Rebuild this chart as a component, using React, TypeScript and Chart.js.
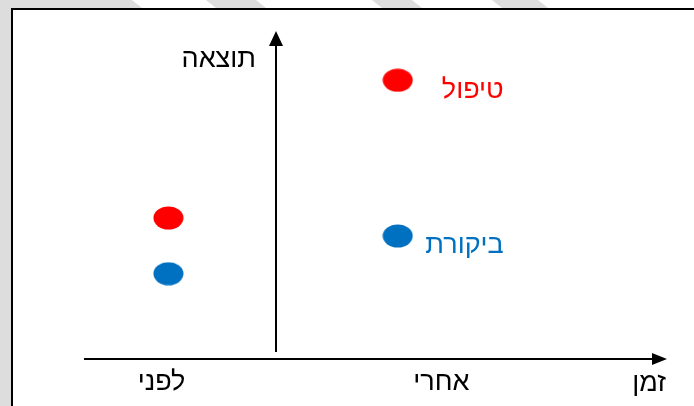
import React, { useEffect, useRef } from "react";
import { Chart, registerables } from "chart.js";

Chart.register(...registerables);

// ---- data ----
const periods = ["לפני", "אחרי"];
const periodX = [0, 1];
const tickAt = [-0.03, 1.19];
const treatment = [4.3, 8.5];
const control = [2.6, 3.75];
const seriesNames = ["טיפול", "ביקורת"];
const xTitle = "זמן";
const yTitle = "תוצאה";

const FONT = '"Liberation Sans", Arial, "DejaVu Sans", sans-serif';
const FONT_SIZE = 27;
const RED = "#ff0000";
const BLUE = "#0070c0";

function ellipse(color: string, w: number, h: number) {
  const c = document.createElement("canvas");
  c.width = w;
  c.height = h;
  const ctx = c.getContext("2d")!;
  ctx.fillStyle = color;
  ctx.beginPath();
  ctx.ellipse(w / 2, h / 2, w / 2 - 0.5, h / 2 - 0.5, 0, 0, Math.PI * 2);
  ctx.fill();
  return c;
}

const slidePlugin = {
  id: "slide",
  beforeDraw(chart: any) {
    const ctx = chart.ctx;
    const W = chart.width;
    const H = chart.height;
    ctx.save();
    ctx.fillStyle = "#ffffff";
    ctx.fillRect(0, 0, W, H);
    ctx.fillStyle = "#dddddd";
    ctx.fillRect(0, 0, 11, H);
    const bands = [
      [-20, 132],
      [206, 256],
      [372, 412],
      [492, 538],
    ];
    for (const [a, b] of bands) {
      ctx.beginPath();
      ctx.moveTo(a, 0);
      ctx.lineTo(b, 0);
      ctx.lineTo(b + 10, 8);
      ctx.lineTo(a + 10, 8);
      ctx.closePath();
      ctx.fill();
    }
    ctx.fillStyle = "#000000";
    ctx.fillRect(11, 8, W - 11, 2);
    ctx.fillRect(11, 8, 2, H - 8);
    ctx.restore();
  },
};

const axesPlugin = {
  id: "axes",
  beforeDatasetsDraw(chart: any, _args: any, opts: any) {
    const ctx = chart.ctx;
    const a = chart.chartArea;
    const x = chart.scales.x;
    const yx = Math.round(x.getPixelForValue(opts.yAxisAt));
    ctx.save();
    ctx.strokeStyle = "#000";
    ctx.fillStyle = "#000";
    ctx.lineWidth = 2;
    // x axis
    ctx.beginPath();
    ctx.moveTo(a.left, a.bottom);
    ctx.lineTo(a.right - 10, a.bottom);
    ctx.stroke();
    ctx.beginPath();
    ctx.moveTo(a.right, a.bottom);
    ctx.lineTo(a.right - 15, a.bottom - 6);
    ctx.lineTo(a.right - 15, a.bottom + 6);
    ctx.closePath();
    ctx.fill();
    // y axis
    ctx.beginPath();
    ctx.moveTo(yx, a.bottom - 7);
    ctx.lineTo(yx, a.top + 10);
    ctx.stroke();
    ctx.beginPath();
    ctx.moveTo(yx, a.top);
    ctx.lineTo(yx - 7, a.top + 15);
    ctx.lineTo(yx + 7, a.top + 15);
    ctx.closePath();
    ctx.fill();
    // titles
    ctx.font = `${FONT_SIZE}px ${FONT}`;
    ctx.textBaseline = "middle";
    ctx.textAlign = "right";
    ctx.fillText(opts.yTitle, yx - 20, a.top + 29);
    ctx.fillText(opts.xTitle, a.right - 1, a.bottom + 25);
    ctx.restore();
  },
};

const labelsPlugin = {
  id: "seriesLabels",
  afterDatasetsDraw(chart: any, _args: any, opts: any) {
    const ctx = chart.ctx;
    ctx.save();
    ctx.font = `${FONT_SIZE}px ${FONT}`;
    ctx.textBaseline = "middle";
    ctx.textAlign = "right";
    chart.data.datasets.forEach((ds: any, i: number) => {
      const meta = chart.getDatasetMeta(i);
      const last = meta.data[meta.data.length - 1];
      ctx.fillStyle = ds.backgroundColor;
      ctx.fillText(ds.label, last.x + opts.dx, last.y + opts.dy);
    });
    ctx.restore();
  },
};

export default function App() {
  const ref = useRef<HTMLCanvasElement>(null);

  useEffect(() => {
    if (!ref.current) return;
    const chart = new Chart(ref.current, {
      type: "scatter",
      data: {
        datasets: [
          {
            label: seriesNames[0],
            data: periodX.map((x, i) => ({ x, y: treatment[i] })),
            pointStyle: ellipse(RED, 31, 24) as any,
            backgroundColor: RED,
            borderColor: RED,
            pointRadius: 12,
            pointHoverRadius: 12,
          },
          {
            label: seriesNames[1],
            data: periodX.map((x, i) => ({ x, y: control[i] })),
            pointStyle: ellipse(BLUE, 31, 24) as any,
            backgroundColor: BLUE,
            borderColor: BLUE,
            pointRadius: 12,
            pointHoverRadius: 12,
          },
        ],
      },
      options: {
        responsive: false,
        animation: false,
        events: [],
        layout: { padding: { top: 31, left: 84, right: 27, bottom: 0 } },
        plugins: {
          legend: { display: false },
          tooltip: { enabled: false },
          axes: { yAxisAt: 0.47, xTitle, yTitle },
          seriesLabels: { dx: 106, dy: 10 },
        } as any,
        scales: {
          x: {
            type: "linear",
            min: -0.368,
            max: 2.174,
            position: "bottom",
            grid: { display: false, drawTicks: false },
            border: { display: false },
            afterBuildTicks: (s: any) => {
              s.ticks = tickAt.map((v) => ({ value: v }));
            },
            afterFit: (s: any) => {
              s.height = 47;
            },
            ticks: {
              padding: 7,
              color: "#000",
              font: { family: FONT, size: FONT_SIZE },
              maxRotation: 0,
              autoSkip: false,
              callback: (_v: any, i: number) => periods[i],
            },
          },
          y: { display: false, min: 0, max: 10 },
        },
      },
      plugins: [slidePlugin, axesPlugin, labelsPlugin],
    });
    return () => chart.destroy();
  }, []);

  return (
    <div style={{ position: "fixed", left: 0, top: 0, width: 694, height: 406 }}>
      <canvas ref={ref} width={694} height={406} style={{ display: "block" }} />
    </div>
  );
}
